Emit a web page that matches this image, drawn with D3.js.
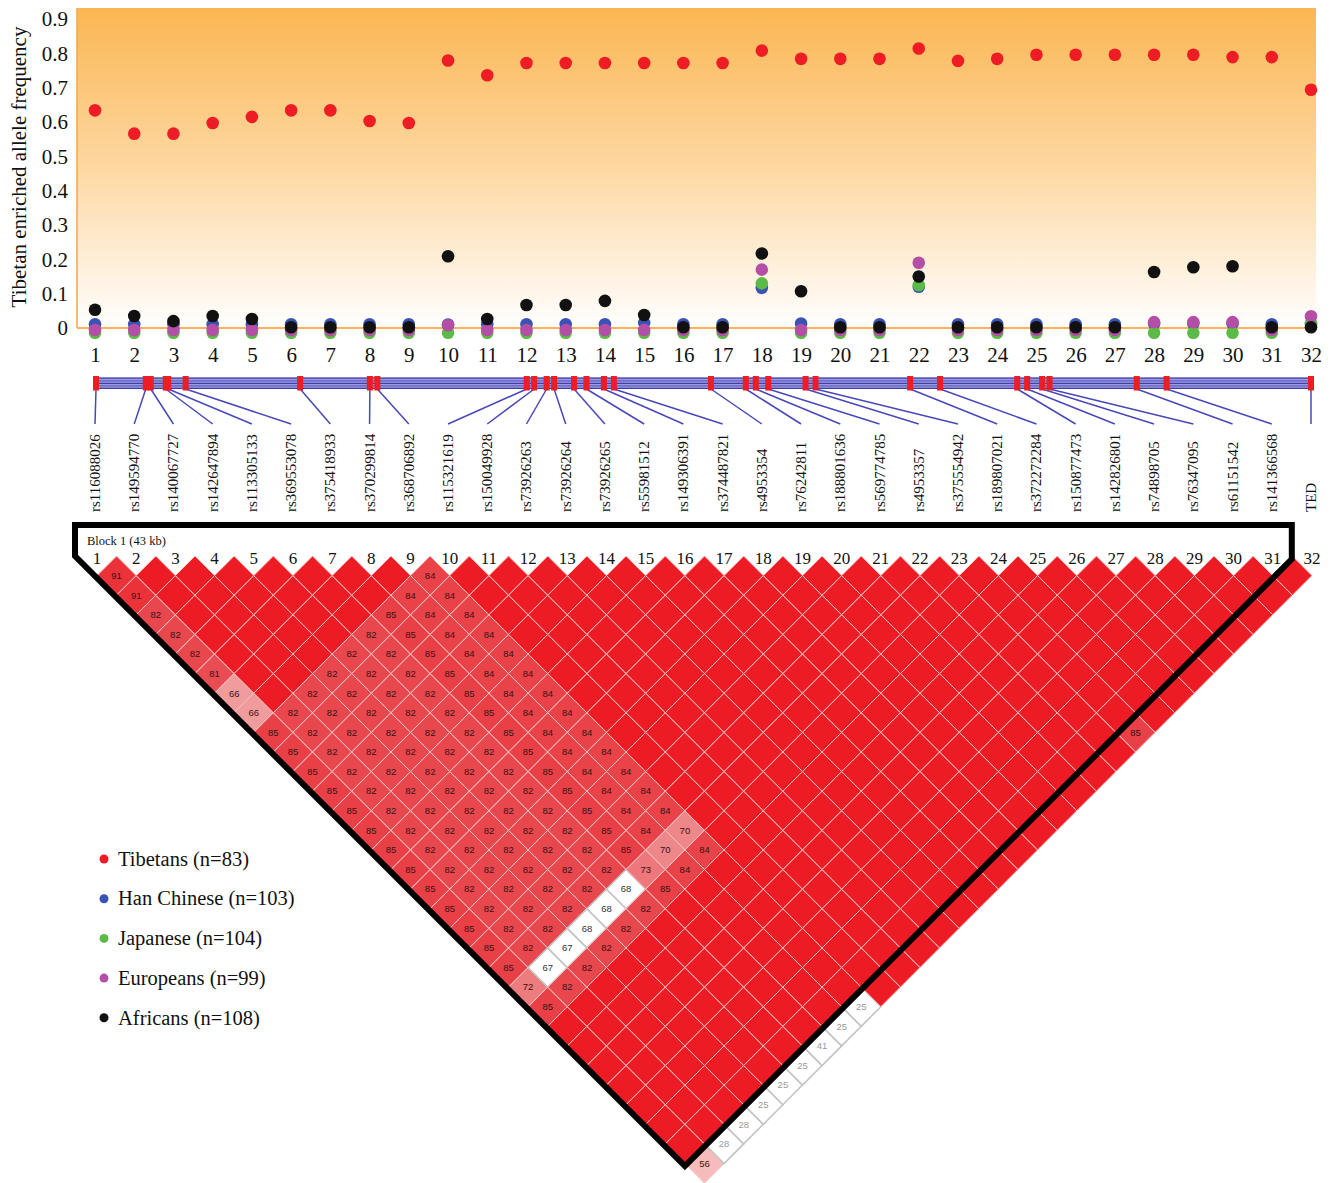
<html>
<head>
<script src="https://d3js.org/d3.v7.min.js"></script>
<title>Tibetan enriched allele frequency and LD</title>
<style>
  body { margin: 0; background: #fff; }
  text { font-family: "Liberation Serif", "Times New Roman", serif; }
  .cell-label { font-family: "Liberation Sans", Arial, sans-serif; font-size: 9.5px; }
</style>
</head>
<body>
<svg id="chart" width="1333" height="1183"></svg>
<script>
// ---- data ----
var snpIndex = d3.range(1, 33);

var snpLabels = ["rs116088026", "rs149594770", "rs140067727", "rs142647894", "rs113305133",
    "rs369553078", "rs375418933", "rs370299814", "rs368706892", "rs115321619", "rs150049928",
    "rs73926263", "rs73926264", "rs73926265", "rs55981512", "rs149306391", "rs374487821",
    "rs4953354", "rs76242811", "rs188801636", "rs569774785", "rs4953357", "rs375554942",
    "rs189807021", "rs372272284", "rs150877473", "rs142826801", "rs74898705", "rs76347095",
    "rs61151542", "rs141366568", "TED"];

// physical position along the region (kb from the first SNP)
var positionsKb = [0.0, 2.0, 2.2, 2.8, 2.9, 3.6, 8.2, 11.0, 11.3, 17.3, 17.6, 18.1, 18.4, 19.2, 19.7, 20.4,
    20.8, 24.7, 26.1, 26.5, 27.0, 28.5, 28.9, 32.7, 33.9, 37.0, 37.4, 38.0, 38.3, 41.8, 43.0, 48.8];

var tibetans = [0.634, 0.566, 0.566, 0.597, 0.615, 0.634, 0.634, 0.603, 0.597, 0.779, 0.736, 0.772,
    0.772, 0.772, 0.772, 0.772, 0.772, 0.808, 0.784, 0.784, 0.784, 0.814, 0.778, 0.784, 0.796,
    0.796, 0.796, 0.796, 0.796, 0.789, 0.789, 0.694];
var hanChinese = [0.011, 0.011, 0.011, 0.011, 0.011, 0.011, 0.011, 0.011, 0.011, 0.010, 0.011, 0.011,
    0.011, 0.011, 0.015, 0.011, 0.011, 0.117, 0.013, 0.011, 0.011, 0.120, 0.011, 0.011, 0.011,
    0.011, 0.011, 0.013, 0.013, 0.013, 0.011, 0.012];
var japanese = [-0.014, -0.014, -0.014, -0.014, -0.014, -0.014, -0.014, -0.014, -0.014, -0.014, -0.014,
    -0.014, -0.014, -0.014, -0.014, -0.014, -0.014, 0.130, -0.014, -0.014, -0.014, 0.125, -0.014,
    -0.014, -0.014, -0.014, -0.014, -0.014, -0.014, -0.014, -0.014, 0.014];
var europeans = [-0.006, -0.006, -0.006, -0.006, -0.006, -0.006, -0.006, -0.006, -0.006, 0.008, -0.006,
    -0.006, -0.006, -0.006, -0.006, -0.006, -0.006, 0.170, -0.006, -0.006, -0.006, 0.190, -0.006,
    -0.006, -0.006, -0.006, -0.006, 0.017, 0.017, 0.017, -0.006, 0.034];
var africans = [0.053, 0.035, 0.020, 0.035, 0.026, 0.002, 0.002, 0.002, 0.002, 0.209, 0.026, 0.067,
    0.067, 0.079, 0.038, 0.002, 0.002, 0.217, 0.107, 0.002, 0.002, 0.150, 0.002, 0.002, 0.002,
    0.002, 0.002, 0.163, 0.177, 0.180, 0.002, 0.002];

var populations = ["Tibetans (n=83)", "Han Chinese (n=103)", "Japanese (n=104)", "Europeans (n=99)", "Africans (n=108)"];
var popColors = ["#ee1d25", "#3a52b4", "#5cbb46", "#b44fa8", "#111111"];

var yTicks = [0, 0.1, 0.2, 0.3, 0.4, 0.5, 0.6, 0.7, 0.8, 0.9];

// D' (x100) for every pair, row i lists j = i+1 .. 32
var ldRows = [
  [91,91,82,82,82,81,66,66,85,85,85,85,85,85,85,85,85,85,85,85,85,72,85,100,100,100,100,100,100,100,56],
  [100,100,100,100,100,100,100,82,82,82,82,82,82,82,82,82,82,82,82,82,67,82,100,100,100,100,100,100,100,28],
  [100,100,100,100,100,100,82,82,82,82,82,82,82,82,82,82,82,82,82,67,82,100,100,100,100,100,100,100,28],
  [100,100,100,100,100,82,82,82,82,82,82,82,82,82,82,82,82,82,68,82,100,100,100,100,100,100,100,25],
  [100,100,100,100,82,82,82,82,82,82,82,82,82,82,82,82,82,68,82,100,100,100,100,100,100,100,25],
  [100,100,100,82,82,82,82,82,82,82,82,82,82,82,82,82,68,82,100,100,100,100,100,100,100,25],
  [100,100,85,85,85,85,85,85,85,85,85,85,85,85,85,73,85,100,100,100,100,100,100,100,41],
  [100,84,84,84,84,84,84,84,84,84,84,84,84,84,70,84,100,100,100,100,100,100,100,25],
  [84,84,84,84,84,84,84,84,84,84,84,84,84,70,84,100,100,100,100,100,100,100,25],
  [100,100,100,100,100,100,100,100,100,100,100,100,100,100,100,100,100,100,100,100,100,100],
  [100,100,100,100,100,100,100,100,100,100,100,100,100,100,100,100,100,100,100,100,100],
  [100,100,100,100,100,100,100,100,100,100,100,100,100,100,100,100,100,100,100,100],
  [100,100,100,100,100,100,100,100,100,100,100,100,100,100,100,100,100,100,100],
  [100,100,100,100,100,100,100,100,100,100,100,100,100,100,100,100,100,100],
  [100,100,100,100,100,100,100,100,100,100,100,100,100,100,100,100,100],
  [100,100,100,100,100,100,100,100,100,100,100,100,100,100,100,100],
  [100,100,100,100,100,100,100,100,100,100,100,100,100,100,100],
  [100,100,100,100,100,100,100,100,100,100,100,100,100,100],
  [100,100,100,100,100,100,100,100,100,100,100,100,100],
  [100,100,100,100,100,100,100,100,100,100,100,100],
  [100,100,100,100,100,100,100,100,100,100,100],
  [100,100,100,100,100,100,100,100,100,100],
  [100,100,100,100,100,100,100,100,85],
  [100,100,100,100,100,100,100,100],
  [100,100,100,100,100,100,100],
  [100,100,100,100,100,100],
  [100,100,100,100,100],
  [100,100,100,100],
  [100,100,100],
  [100,100],
  [100]
];

// pairs with low LOD (drawn white)
var lowLodPairs = [[2,23],[3,23],[4,23],[5,23],[6,23],
    [2,32],[3,32],[4,32],[5,32],[6,32],[7,32],[8,32],[9,32]];

var blockLabel = "Block 1 (43 kb)";
var blockSnps = [1, 31];

// ---- drawing ----
var svg = d3.select("#chart");

// top panel scales
var xTop = d3.scaleLinear().domain([1, 32]).range([95, 1311]);
var yTop = d3.scaleLinear().domain([0, 0.9]).range([328, 19]);
var plotLeft = 77, plotRight = 1316, plotTop = 8;

var defs = svg.append("defs");
var grad = defs.append("linearGradient").attr("id", "bg")
    .attr("x1", 0).attr("y1", 0).attr("x2", 0).attr("y2", 1);
grad.append("stop").attr("offset", "0%").attr("stop-color", "#fbb652");
grad.append("stop").attr("offset", "50%").attr("stop-color", "#fdd8a2");
grad.append("stop").attr("offset", "100%").attr("stop-color", "#ffffff");

svg.append("rect")
    .attr("x", plotLeft).attr("y", plotTop)
    .attr("width", plotRight - plotLeft).attr("height", yTop(0) - plotTop)
    .attr("fill", "url(#bg)");

// y axis
var yAxis = d3.axisLeft(yTop).tickValues(yTicks).tickSize(0).tickPadding(9)
    .tickFormat(function (d) { return d === 0 ? "0" : d3.format(".1f")(d); });
var gy = svg.append("g").attr("transform", "translate(" + plotLeft + ",0)").call(yAxis);
gy.select(".domain").remove();
gy.selectAll("text").attr("font-family", "Liberation Serif, Times New Roman, serif")
    .attr("font-size", 21).attr("fill", "#111");

svg.append("line").attr("x1", plotLeft).attr("x2", plotLeft)
    .attr("y1", plotTop).attr("y2", yTop(0))
    .attr("stroke", "#f7a63c").attr("stroke-width", 1.5);
svg.append("line").attr("x1", plotLeft).attr("x2", plotRight)
    .attr("y1", yTop(0)).attr("y2", yTop(0))
    .attr("stroke", "#f9b257").attr("stroke-width", 2);

svg.append("text")
    .attr("transform", "translate(26," + 167 + ") rotate(-90)")
    .attr("text-anchor", "middle")
    .attr("font-size", 21).attr("fill", "#111")
    .text("Tibetan enriched allele frequency");

// x labels
var xAxis = d3.axisBottom(xTop).tickValues(snpIndex).tickSize(0).tickPadding(0)
    .tickFormat(d3.format("d"));
var gx = svg.append("g").attr("transform", "translate(0,347)").call(xAxis);
gx.select(".domain").remove();
gx.selectAll("text").attr("font-family", "Liberation Serif, Times New Roman, serif")
    .attr("font-size", 21).attr("fill", "#111").attr("dy", "0.71em");

// dots (draw order: Han, Japanese, Europeans, Africans, Tibetans)
var series = [
    {values: hanChinese, color: popColors[1]},
    {values: japanese, color: popColors[2]},
    {values: europeans, color: popColors[3]},
    {values: africans, color: popColors[4]},
    {values: tibetans, color: popColors[0]}
];
series.forEach(function (s) {
    svg.append("g").selectAll("circle")
        .data(s.values)
        .enter().append("circle")
        .attr("cx", function (d, i) { return xTop(snpIndex[i]); })
        .attr("cy", function (d) { return yTop(d); })
        .attr("r", 6.3)
        .attr("fill", s.color);
});

// gene bar with SNP positions
var xKb = d3.scaleLinear().domain([0, 48.8]).range([96, 1311]);
var barTop = 377.5, barH = 11.5;
svg.append("rect").attr("x", 93).attr("y", barTop).attr("width", 1314 - 93).attr("height", barH)
    .attr("fill", "#9c9ce2");
[0.7, 3.3, 5.8, 8.3, 10.8].forEach(function (o, k) {
    svg.append("line").attr("x1", 93).attr("x2", 1314)
        .attr("y1", barTop + o).attr("y2", barTop + o)
        .attr("stroke", k % 2 ? "#6262c2" : "#4040a8").attr("stroke-width", 1.3);
});

svg.append("g").selectAll("line")
    .data(positionsKb)
    .enter().append("line")
    .attr("x1", function (d) { return xKb(d); })
    .attr("y1", barTop + barH)
    .attr("x2", function (d, i) { return xTop(snpIndex[i]); })
    .attr("y2", 424)
    .attr("stroke", "#4848b8").attr("stroke-width", 1.5);

svg.append("g").selectAll("rect")
    .data(positionsKb)
    .enter().append("rect")
    .attr("x", function (d) { return xKb(d) - 3; })
    .attr("y", barTop - 1.5)
    .attr("width", 6).attr("height", barH + 3)
    .attr("fill", "#ee1c24");

svg.append("g").selectAll("text")
    .data(snpLabels)
    .enter().append("text")
    .attr("transform", function (d, i) { return "translate(" + (xTop(snpIndex[i]) + 5) + ",512) rotate(-90)"; })
    .attr("font-size", 15).attr("fill", "#111")
    .text(function (d) { return d; });

// ---- LD plot ----
var xLD = d3.scaleLinear().domain([1, 32]).range([97, 1312]);
var step = xLD(2) - xLD(1), half = step / 2, ldTop = 556;

var lowSet = {};
lowLodPairs.forEach(function (p) { lowSet[p[0] + "-" + p[1]] = true; });

var cells = [];
ldRows.forEach(function (row, r) {
    row.forEach(function (v, c) {
        var i = r + 1, j = i + 1 + c;
        cells.push({i: i, j: j, d: v, low: !!lowSet[i + "-" + j]});
    });
});

var ldColor = d3.scaleLinear()
    .domain([56, 66, 82, 100])
    .range(["#f6bcbc", "#f09c9c", "#e8474e", "#ed1c24"]);

function cx(c) { return (xLD(c.i) + xLD(c.j)) / 2; }
function cy(c) { return ldTop + (c.j - c.i) * half; }

var gLD = svg.append("g");
gLD.selectAll("path")
    .data(cells)
    .enter().append("path")
    .attr("d", function (c) {
        var x = cx(c), y = cy(c);
        return "M" + x + "," + (y - half) + "L" + (x + half) + "," + y +
            "L" + x + "," + (y + half) + "L" + (x - half) + "," + y + "Z";
    })
    .attr("fill", function (c) { return c.low ? "#ffffff" : ldColor(c.d); })
    .attr("stroke", function (c) { return c.low ? "#c4c4c4" : "#f5c4c4"; })
    .attr("stroke-width", function (c) { return c.low ? 1.6 : 1; });

gLD.selectAll("text")
    .data(cells.filter(function (c) { return c.d < 100; }))
    .enter().append("text")
    .attr("class", "cell-label")
    .attr("x", cx).attr("y", cy)
    .attr("dy", "0.35em")
    .attr("text-anchor", "middle")
    .attr("fill", function (c) {
        if (c.low) return c.d < 50 ? "#9a9a9a" : "#333";
        return "#3a1212";
    })
    .text(function (c) { return c.d; });

// column numbers
svg.append("g").selectAll("text")
    .data(snpIndex)
    .enter().append("text")
    .attr("x", function (d) { return xLD(d); })
    .attr("y", 564)
    .attr("text-anchor", "middle")
    .attr("font-size", 17).attr("fill", "#111")
    .text(function (d) { return d; });

// block outline
var bFirst = xLD(blockSnps[0]) - 22, bLast = xLD(blockSnps[1]) + 19;
var leftC = ldTop + half - (xLD(blockSnps[0]) - bFirst) + 2.5;
var apexX = (xLD(blockSnps[0]) + xLD(blockSnps[1])) / 2;
var apexY = ldTop + (blockSnps[1] - blockSnps[0]) * half + half + 2.5;
var rightC = apexY - (bLast - apexX);
svg.append("path")
    .attr("d", "M" + bFirst + ",525L" + bFirst + "," + leftC + "L" + apexX + "," + apexY +
        "L" + bLast + "," + rightC + "L" + bLast + ",525Z")
    .attr("fill", "none").attr("stroke", "#000").attr("stroke-width", 6)
    .attr("stroke-linejoin", "miter");

svg.append("text").attr("x", 87).attr("y", 545)
    .attr("font-size", 12.5).attr("fill", "#111").text(blockLabel);

// legend
var legend = svg.append("g").selectAll("g")
    .data(populations)
    .enter().append("g")
    .attr("transform", function (d, i) { return "translate(104," + (859 + i * 39.7) + ")"; });
legend.append("circle").attr("r", 4.5).attr("fill", function (d, i) { return popColors[i]; });
legend.append("text").attr("x", 14).attr("dy", "0.33em")
    .attr("font-size", 20.5).attr("fill", "#111")
    .text(function (d) { return d; });
</script>
</body>
</html>
